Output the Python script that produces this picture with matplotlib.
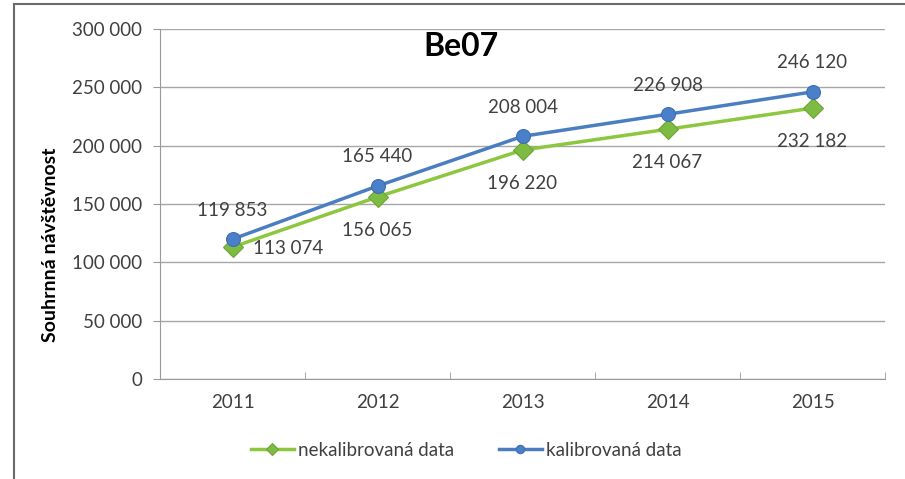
import matplotlib
matplotlib.use("Agg")
import matplotlib.pyplot as plt
from matplotlib.ticker import FuncFormatter, FixedLocator

years = ["2011", "2012", "2013", "2014", "2015"]
nekalibrovana = [113074, 156065, 196220, 214067, 232182]
kalibrovana = [119853, 165440, 208004, 226908, 246120]
title = "Be07"
ylabel = "Souhrnná návštěvnost"
labels = ["nekalibrovaná data", "kalibrovaná data"]

plt.rcParams['font.family'] = ['Lato', 'DejaVu Sans']

W, H = 905, 479
fig = plt.figure(figsize=(W / 100, H / 100), dpi=100)
ax = fig.add_axes([160 / W, 1 - 379 / H, (885 - 160) / W, (379 - 29) / H])

def fmt(v):
    return f"{int(v):,}".replace(",", " ")

x = list(range(len(years)))
green_line = "#8DC63F"
green_mark = "#7DBB42"
blue_line = "#4A7EC1"
blue_mark = "#4A7FC9"

ax.plot(x, nekalibrovana, color=green_line, lw=2.5, marker="D", ms=10,
        mfc=green_mark, mec="#6FA436", mew=0.8, label=labels[0], zorder=3)
ax.plot(x, kalibrovana, color=blue_line, lw=2.5, marker="o", ms=10,
        mfc=blue_mark, mec="#3F6FB0", mew=0.8, label=labels[1], zorder=4)

tcol = "#404040"
fs = 13.5
for i, v in enumerate(kalibrovana):
    ax.annotate(fmt(v), (i, v), xytext=(0, 21), textcoords="offset points",
                ha="center", va="center", fontsize=fs, color=tcol)
for i, v in enumerate(nekalibrovana):
    if i == 0:
        ax.annotate(fmt(v), (i, v), xytext=(40, -1), textcoords="offset points",
                    ha="center", va="center", fontsize=fs, color=tcol)
    else:
        ax.annotate(fmt(v), (i, v), xytext=(0, -24), textcoords="offset points",
                    ha="center", va="center", fontsize=fs, color=tcol)

ax.set_xlim(-0.5, len(years) - 0.5)
ax.set_ylim(0, 300000)
ax.set_yticks(range(0, 300001, 50000))
ax.yaxis.set_major_formatter(FuncFormatter(lambda v, p: fmt(v)))
ax.set_xticks(x)
ax.set_xticklabels(years)
ax.xaxis.set_minor_locator(FixedLocator([i - 0.5 for i in range(len(years) + 1)]))
ax.tick_params(axis="x", which="major", length=0, pad=11, labelsize=fs, labelcolor=tcol)
ax.tick_params(axis="x", which="minor", length=5, color="#999999", direction="in")
ax.tick_params(axis="y", length=5, color="#999999", labelsize=fs, labelcolor=tcol, pad=8)
ax.grid(axis="y", color="#a6a6a6", lw=1)
ax.set_axisbelow(True)
for s in ["top", "right"]:
    ax.spines[s].set_visible(False)
ax.spines["left"].set_color("#999999")
ax.spines["bottom"].set_color("#999999")

fig.text(461 / W, 1 - 46 / H, title, ha="center", va="center",
         fontsize=23, fontweight="bold", color="black")
fig.text(50 / W, 1 - 245 / H, ylabel, ha="center", va="center", rotation=90,
         fontsize=14, fontweight="bold", color="black")

fig.legend(loc="center", bbox_to_anchor=(466 / W, 1 - 450 / H), ncol=2,
           frameon=False, fontsize=fs, handlelength=2.3, handletextpad=0.2,
           columnspacing=2.4, markerscale=0.6, labelcolor=tcol)

# outer frame lines
fig.add_artist(plt.Line2D([14 / W, 14 / W], [0, 1 - 4 / H], color="#6b6b6b", lw=1.5))
fig.add_artist(plt.Line2D([14 / W, 1], [1 - 4 / H, 1 - 4 / H], color="#6b6b6b", lw=1.5))

fig.savefig("out.png", dpi=100)
